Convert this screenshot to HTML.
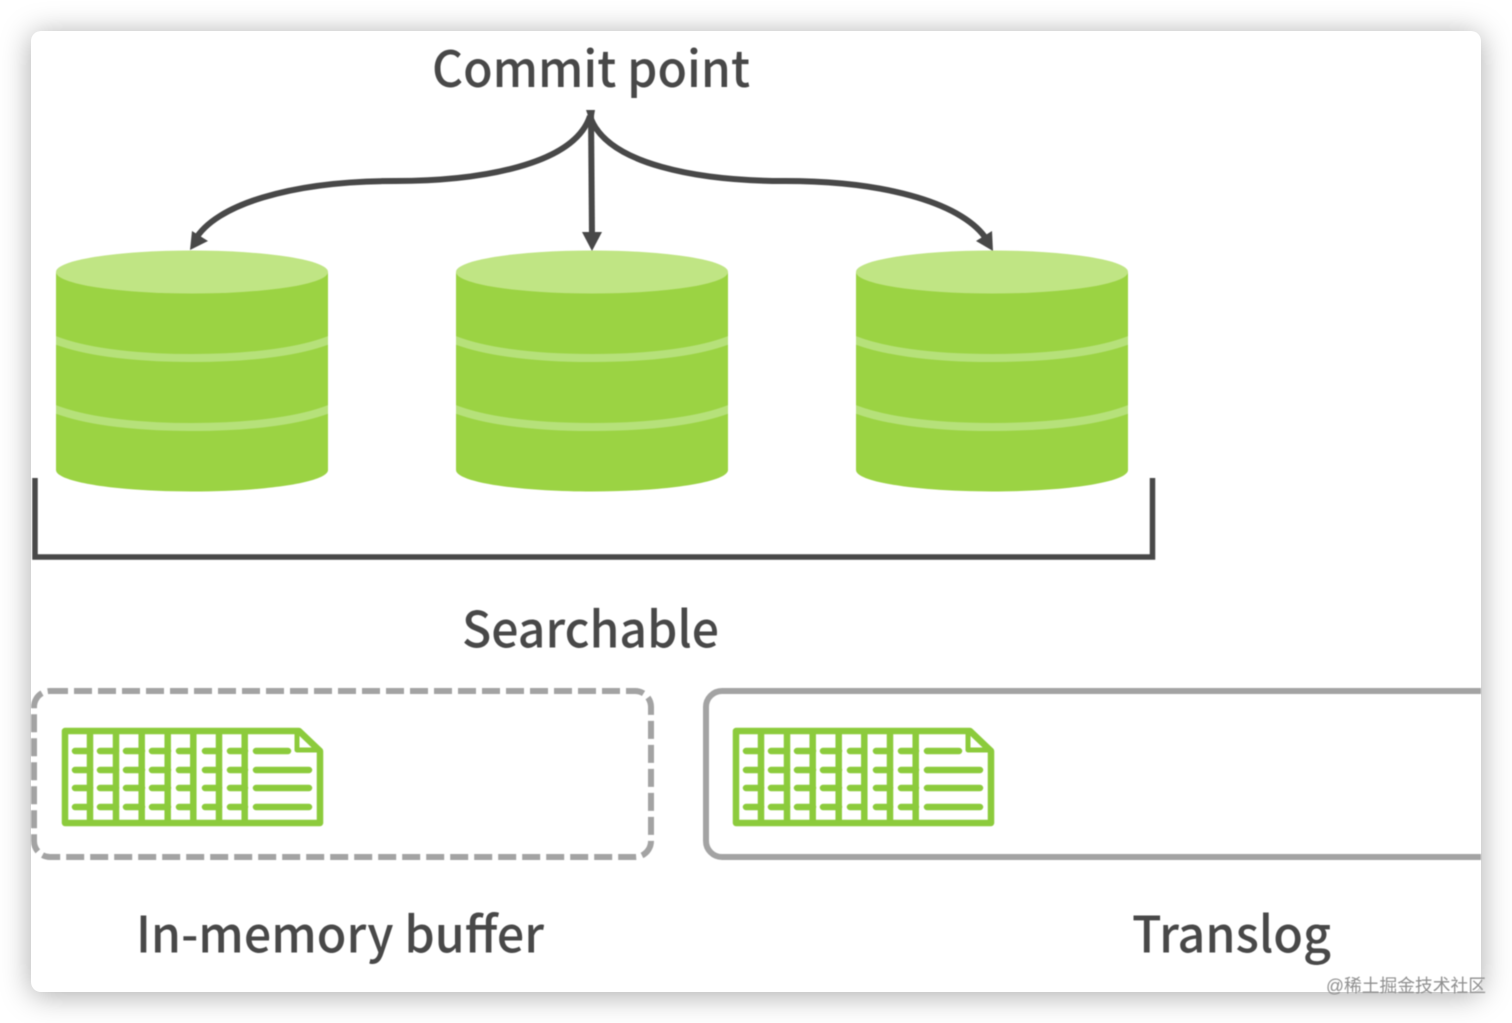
<!DOCTYPE html>
<html>
<head>
<meta charset="utf-8">
<style>
html,body{margin:0;padding:0;background:#fff;width:1512px;height:1023px;overflow:hidden}
#card{position:absolute;left:31px;top:31px;width:1450px;height:961px;background:#fff;border-radius:10px;box-shadow:0 3px 30px rgba(0,0,0,.34)}
svg{position:absolute;left:0;top:0;filter:blur(.5px)}
text{font-family:"Noto Sans CJK SC","Liberation Sans",sans-serif;fill:#484848;font-weight:500}
</style>
</head>
<body>
<div id="card"></div>
<svg width="1512" height="1023" viewBox="0 0 1512 1023">
<defs>
<clipPath id="c"><rect x="31" y="31" width="1450" height="961"/></clipPath>
<clipPath id="b"><path d="M56 272V470C56 482 117 491.500 192 491.500S328 482 328 470V272Z"/></clipPath>
<g id="db">
<path d="M56 272V470C56 482 117 491.500 192 491.500S328 482 328 470V272Z" fill="#9bd343"/>
<ellipse cx="192" cy="272" rx="136" ry="21.500" fill="#c0e584"/>
<g clip-path="url(#b)" fill="none" stroke="#b6e17a" stroke-width="8">
<path d="M50 338C80 351 130 358 192 358S304 351 334 338"/>
<path d="M50 407C80 420 130 427 192 427S304 420 334 407"/>
</g>
</g>
<g id="doc" fill="none" stroke="#8ccb3c" stroke-linejoin="round">
<path d="M65 731H299L320 751V823H65Z" fill="#fff" stroke-width="6.500"/>
<path d="M90 731V823M116 731V823M141.700 731V823M167.700 731V823M193.300 731V823M219 731V823M244.700 731V823" stroke-width="6.500"/>
<path d="M297 733V750H318" stroke-width="5"/>
<g stroke-width="6.500" stroke-linecap="round">
<path d="M75 751H90M100 751H116M126 751H142M152 751H168M179 751H193M205 751H219M230 751H245"/>
<path d="M75 770H90M100 770H116M126 770H142M152 770H168M179 770H193M205 770H219M230 770H245"/>
<path d="M75 788H90M100 788H116M126 788H142M152 788H168M179 788H193M205 788H219M230 788H245"/>
<path d="M75 807H90M100 807H116M126 807H142M152 807H168M179 807H193M205 807H219M230 807H245"/>
<path d="M256 751H288M256 770H309M256 788H309M256 807H309"/>
</g>
</g>
</defs>

<text x="432" y="87" font-size="50" textLength="318" lengthAdjust="spacingAndGlyphs">Commit point</text>

<g fill="none" stroke="#484848" stroke-width="6">
<path d="M590 116C574 165 480 181 395 181C290 181 215 205 195 240"/>
<path d="M590 116C606 165 700 181 785 181C890 181 965 205 987 240"/>
<path d="M591 112L592 238"/>
</g>
<path d="M586 110H595L592 127Z" fill="#484848"/>
<path d="M582 232H602L592 251Z" fill="#484848"/>
<path d="M190 250L192 231L208 241Z" fill="#484848"/>
<path d="M993 251L992 231L976 241Z" fill="#484848"/>

<use href="#db"/>
<use href="#db" x="400"/>
<use href="#db" x="800"/>

<path d="M35 478V557H1152.500V478" fill="none" stroke="#484848" stroke-width="5.500"/>

<text x="462" y="647.500" font-size="50" textLength="257" lengthAdjust="spacingAndGlyphs">Searchable</text>

<rect x="34" y="691" width="617" height="166" rx="16" fill="none" stroke="#a3a3a3" stroke-width="6" stroke-dasharray="18 6"/>
<g clip-path="url(#c)"><rect x="706" y="691" width="900" height="166" rx="16" fill="none" stroke="#a3a3a3" stroke-width="6"/></g>

<use href="#doc"/>
<use href="#doc" x="671"/>

<text x="136" y="952.500" font-size="50" textLength="408" lengthAdjust="spacingAndGlyphs">In-memory buffer</text>
<text x="1132" y="952.500" font-size="50" textLength="199" lengthAdjust="spacingAndGlyphs">Translog</text>

<text x="1326" y="992" font-size="18" textLength="160" lengthAdjust="spacingAndGlyphs" style="fill:#8f8f8f;font-weight:400;font-family:'Liberation Sans','Noto Sans CJK SC',sans-serif">@稀土掘金技术社区</text>
</svg>
</body>
</html>
